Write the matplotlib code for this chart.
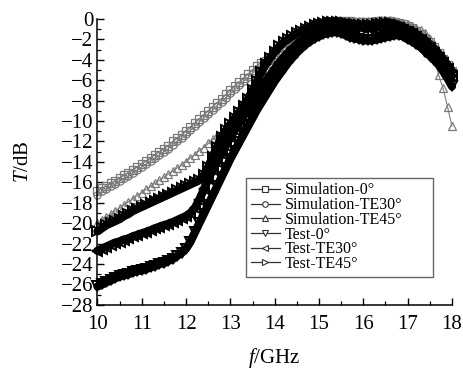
import matplotlib
matplotlib.use("Agg")
import matplotlib.pyplot as plt
from matplotlib.lines import Line2D
from matplotlib.ticker import MultipleLocator

plt.rcParams['font.family'] = ['Liberation Serif', 'DejaVu Serif']
plt.rcParams['mathtext.fontset'] = 'custom'
plt.rcParams['mathtext.rm'] = 'Liberation Serif'
plt.rcParams['mathtext.it'] = 'Liberation Serif:italic'

freq = [10.0, 10.1, 10.2, 10.3, 10.4, 10.5, 10.6, 10.7, 10.8, 10.9,
        11.0, 11.1, 11.2, 11.3, 11.4, 11.5, 11.6, 11.7, 11.8, 11.9,
        12.0, 12.1, 12.2, 12.3, 12.4, 12.5, 12.6, 12.7, 12.8, 12.9,
        13.0, 13.1, 13.2, 13.3, 13.4, 13.5, 13.6, 13.7, 13.8, 13.9,
        14.0, 14.1, 14.2, 14.3, 14.4, 14.5, 14.6, 14.7, 14.8, 14.9,
        15.0, 15.1, 15.2, 15.3, 15.4, 15.5, 15.6, 15.7, 15.8, 15.9,
        16.0, 16.1, 16.2, 16.3, 16.4, 16.5, 16.6, 16.7, 16.8, 16.9,
        17.0, 17.1, 17.2, 17.3, 17.4, 17.5, 17.6, 17.7, 17.8, 17.9,
        18.0]

sim_0 = [-16.9, -16.6, -16.4, -16.1, -15.9, -15.6, -15.3, -15.1, -14.8, -14.5,
         -14.2, -13.9, -13.6, -13.3, -13.0, -12.7, -12.4, -12.0, -11.7, -11.4,
         -11.0, -10.6, -10.2, -9.8, -9.4, -9.0, -8.6, -8.2, -7.8, -7.4,
         -7.0, -6.6, -6.2, -5.8, -5.4, -5.0, -4.6, -4.3, -4.1, -3.8,
         -3.4, -3.0, -2.7, -2.4, -2.1, -1.8, -1.5, -1.3, -1.0, -0.8,
         -0.6, -0.4, -0.3, -0.2, -0.2, -0.2, -0.2, -0.2, -0.3, -0.3,
         -0.3, -0.3, -0.3, -0.2, -0.2, -0.2, -0.2, -0.3, -0.4, -0.5,
         -0.7, -0.9, -1.2, -1.5, -1.9, -2.3, -2.8, -3.3, -3.9, -4.5,
         -5.1]

sim_30 = [-17.2, -16.9, -16.7, -16.4, -16.2, -15.9, -15.6, -15.4, -15.1, -14.8,
          -14.5, -14.2, -13.9, -13.6, -13.3, -13.0, -12.7, -12.3, -12.0, -11.7,
          -11.3, -10.9, -10.5, -10.1, -9.7, -9.3, -8.9, -8.5, -8.1, -7.7,
          -7.3, -6.9, -6.5, -6.1, -5.7, -5.3, -4.9, -4.6, -4.3, -4.0,
          -3.6, -3.2, -2.9, -2.6, -2.3, -2.0, -1.7, -1.4, -1.1, -0.9,
          -0.7, -0.5, -0.4, -0.3, -0.3, -0.3, -0.3, -0.3, -0.4, -0.4,
          -0.4, -0.4, -0.4, -0.3, -0.3, -0.3, -0.3, -0.4, -0.5, -0.6,
          -0.8, -1.0, -1.3, -1.6, -2.0, -2.4, -2.9, -3.4, -4.0, -4.6,
          -5.3]

sim_45 = [-20.0, -19.7, -19.4, -19.1, -18.8, -18.5, -18.2, -17.9, -17.6, -17.3,
          -17.0, -16.7, -16.4, -16.1, -15.8, -15.5, -15.2, -14.9, -14.6, -14.3,
          -14.0, -13.6, -13.3, -12.9, -12.6, -12.2, -11.8, -11.4, -11.1, -10.8,
          -10.4, -9.9, -9.4, -8.8, -8.1, -7.4, -6.6, -5.8, -5.0, -4.3,
          -3.7, -3.2, -2.8, -2.4, -2.1, -1.8, -1.5, -1.2, -1.0, -0.8,
          -0.6, -0.5, -0.4, -0.3, -0.2, -0.2, -0.2, -0.2, -0.2, -0.2,
          -0.2, -0.2, -0.2, -0.2, -0.1, -0.1, -0.1, -0.2, -0.3, -0.4,
          -0.5, -0.7, -0.9, -1.1, -1.4, -2.0, -3.8, -5.5, -6.8, -8.6,
          -10.5]

test_0 = [-26.2, -26.0, -25.8, -25.6, -25.4, -25.2, -25.1, -25.0, -24.8, -24.7,
          -24.6, -24.5, -24.3, -24.2, -24.0, -23.9, -23.7, -23.5, -23.2, -22.9,
          -22.5, -21.8, -20.9, -20.0, -19.1, -18.2, -17.3, -16.4, -15.5, -14.6,
          -13.7, -12.9, -12.1, -11.3, -10.5, -9.7, -8.9, -8.2, -7.5, -6.8,
          -6.1, -5.5, -4.9, -4.3, -3.8, -3.3, -2.9, -2.5, -2.2, -1.9,
          -1.7, -1.5, -1.4, -1.3, -1.3, -1.4, -1.6, -1.8, -1.9, -2.0,
          -2.1, -2.1, -2.1, -2.0, -1.9, -1.8, -1.7, -1.6, -1.6, -1.7,
          -2.0, -2.2, -2.5, -2.8, -3.2, -3.6, -4.0, -4.5, -5.1, -5.8,
          -6.6]

test_30 = [-22.7, -22.5, -22.3, -22.1, -21.9, -21.8, -21.6, -21.5, -21.3, -21.2,
           -21.0, -20.9, -20.7, -20.5, -20.4, -20.2, -20.1, -19.9, -19.7, -19.5,
           -19.3, -19.0, -18.5, -17.7, -16.7, -15.7, -14.8, -14.0, -13.2, -12.4,
           -11.6, -10.9, -10.2, -9.5, -8.9, -8.2, -7.5, -6.8, -6.1, -5.5,
           -4.9, -4.3, -3.8, -3.3, -2.9, -2.5, -2.1, -1.8, -1.5, -1.2,
           -1.0, -0.8, -0.7, -0.7, -0.7, -0.7, -0.7, -0.8, -0.8, -0.8,
           -0.9, -0.9, -0.9, -0.8, -0.8, -0.7, -0.7, -0.8, -0.9, -1.1,
           -1.3, -1.5, -1.8, -2.1, -2.5, -2.9, -3.3, -3.8, -4.3, -4.9,
           -5.6]

test_45 = [-20.8, -20.5, -20.2, -20.0, -19.8, -19.6, -19.3, -19.1, -18.8, -18.6,
           -18.4, -18.2, -18.0, -17.8, -17.6, -17.4, -17.2, -17.0, -16.8, -16.6,
           -16.4, -16.2, -16.0, -15.8, -15.3, -14.5, -13.5, -12.5, -11.6, -10.9,
           -10.3, -9.7, -9.1, -8.5, -7.8, -7.0, -6.1, -5.2, -4.4, -3.8,
           -3.2, -2.7, -2.3, -2.0, -1.7, -1.4, -1.2, -1.0, -0.8, -0.6,
           -0.5, -0.4, -0.3, -0.3, -0.3, -0.3, -0.4, -0.5, -0.5, -0.6,
           -0.6, -0.6, -0.6, -0.5, -0.5, -0.4, -0.4, -0.5, -0.6, -0.8,
           -1.0, -1.2, -1.5, -1.8, -2.1, -2.5, -2.9, -3.4, -3.9, -4.5,
           -5.1]

labels = ['Simulation-0°', 'Simulation-TE30°', 'Simulation-TE45°',
          'Test-0°', 'Test-TE30°', 'Test-TE45°']
markers = ['s', 'o', '^', 'v', '<', '>']

fig = plt.figure(figsize=(4.64, 3.70), dpi=100)
ax = fig.add_axes([0.210, 0.176, 0.764, 0.773])

sims = [sim_0, sim_30, sim_45]
tests = [test_0, test_30, test_45]
for vals, m in zip(sims, markers[:3]):
    ax.plot(freq, vals, color='#808080', lw=0.8, marker=m, ms=5.2,
            mfc='none', mec='#7a7a7a', mew=0.9, zorder=2, clip_on=False)
for vals, m in zip(tests, markers[3:]):
    ax.plot(freq, vals, color='black', lw=6.0, marker=m, ms=7,
            mfc='none', mec='black', mew=1.4, zorder=3, clip_on=False,
            solid_capstyle='round', solid_joinstyle='round')

ax.set_xlim(10, 18)
ax.set_ylim(-28, 0)
ax.xaxis.set_major_locator(MultipleLocator(1))
ax.xaxis.set_minor_locator(MultipleLocator(0.5))
ax.yaxis.set_major_locator(MultipleLocator(2))
ax.yaxis.set_minor_locator(MultipleLocator(1))
for s in ['top', 'right']:
    ax.spines[s].set_visible(False)
for s in ['left', 'bottom']:
    ax.spines[s].set_linewidth(1.1)
ax.tick_params(which='major', direction='in', length=5, width=1.0,
               labelsize=15)
ax.tick_params(axis='x', which='major', pad=7)
ax.tick_params(axis='y', which='major', pad=3)
ax.tick_params(which='minor', direction='in', length=3, width=0.9)

ax.set_xlabel(r'$\mathit{f}$/GHz', fontsize=15, labelpad=9)
ax.set_ylabel(r'$\mathit{T}$/dB', fontsize=15, labelpad=20)

handles = [Line2D([], [], color='#333333', lw=0.9, marker=m, ms=4,
                  mfc='white', mec='#333333', mew=0.8) for m in markers]
leg = ax.legend(handles, labels, loc='lower left',
                bbox_to_anchor=(0.42, 0.098, 0.527, 0.35), mode='expand',
                fontsize=11.5,
                frameon=True, fancybox=False, edgecolor='#666666',
                framealpha=1, handlelength=1.8, handletextpad=0.3,
                labelspacing=-0.08, borderpad=0.3, borderaxespad=0)
leg.get_frame().set_linewidth(1.0)
leg.set_zorder(5)

fig.savefig('out.png', dpi=100)
